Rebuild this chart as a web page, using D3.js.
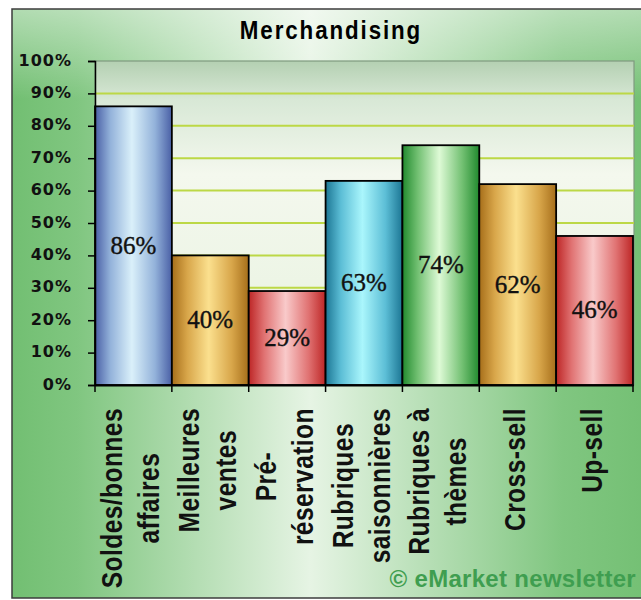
<!DOCTYPE html>
<html>
<head>
<meta charset="utf-8">
<script src="https://cdn.jsdelivr.net/npm/d3@7"></script>
<style>
  body { margin: 0; background: #fff; }
  svg { display: block; }
</style>
</head>
<body>
<svg id="chart"></svg>
<script>
const width = 641;
const height = 600;

// data
const categories = [
  ["Soldes/bonnes", "affaires"],
  ["Meilleures", "ventes"],
  ["Pré-", "réservation"],
  ["Rubriques", "saisonnières"],
  ["Rubriques à", "thèmes"],
  ["Cross-sell"],
  ["Up-sell"]
];
const values = [0.86, 0.40, 0.29, 0.63, 0.74, 0.62, 0.46];
const yTicks = [0, 0.1, 0.2, 0.3, 0.4, 0.5, 0.6, 0.7, 0.8, 0.9, 1];
const title = "Merchandising";
const credit = "© eMarket newsletter";

// bar fills, one per bar
const palette = {
  blue:  ["#4a60a6", "#93b2da", "#daf0fa"],
  gold:  ["#a66e1a", "#d8a64a", "#fbe08e"],
  red:   ["#bd2626", "#e07272", "#f9caca"],
  teal:  ["#1c7694", "#5cbed6", "#aaf6fc"],
  green: ["#218a2e", "#72c072", "#defad6"]
};
const barColors = ["blue", "gold", "red", "teal", "green", "gold", "red"];

const margin = {left: 95, top: 61, right: 633, bottom: 385};

const svg = d3.select("#chart")
  .attr("width", width)
  .attr("height", height)
  .attr("viewBox", [0, 0, width, height]);

const defs = svg.append("defs");

// outer background: green at the sides, pale in the middle
const bg = defs.append("linearGradient").attr("id", "bg")
  .attr("gradientUnits", "userSpaceOnUse")
  .attr("x1", 12).attr("x2", 660).attr("y1", 0).attr("y2", 0);
bg.append("stop").attr("offset", 0).attr("stop-color", "#72bf72");
bg.append("stop").attr("offset", 0.1).attr("stop-color", "#80c680");
bg.append("stop").attr("offset", 0.46).attr("stop-color", "#e6f4e4");
bg.append("stop").attr("offset", 0.85).attr("stop-color", "#80c680");
bg.append("stop").attr("offset", 1).attr("stop-color", "#72bf72");

const topGlow = defs.append("linearGradient").attr("id", "topGlow")
  .attr("x1", 0).attr("x2", 0).attr("y1", 0).attr("y2", 1);
topGlow.append("stop").attr("offset", 0).attr("stop-color", "#fff").attr("stop-opacity", 0.45);
topGlow.append("stop").attr("offset", 1).attr("stop-color", "#fff").attr("stop-opacity", 0);

const plotBg = defs.append("linearGradient").attr("id", "plotBg")
  .attr("x1", 0).attr("x2", 0).attr("y1", 0).attr("y2", 1);
plotBg.append("stop").attr("offset", 0).attr("stop-color", "#b4d0b2");
plotBg.append("stop").attr("offset", 0.12).attr("stop-color", "#d8e8d6");
plotBg.append("stop").attr("offset", 0.35).attr("stop-color", "#f4f8ee");
plotBg.append("stop").attr("offset", 1).attr("stop-color", "#e6f2de");

Object.entries(palette).forEach(([name, [dark, mid, light]]) => {
  const g = defs.append("linearGradient").attr("id", "bar-" + name)
    .attr("x1", 0).attr("x2", 1).attr("y1", 0).attr("y2", 0);
  g.append("stop").attr("offset", 0).attr("stop-color", dark);
  g.append("stop").attr("offset", 0.2).attr("stop-color", mid);
  g.append("stop").attr("offset", 0.48).attr("stop-color", light);
  g.append("stop").attr("offset", 0.78).attr("stop-color", mid);
  g.append("stop").attr("offset", 1).attr("stop-color", dark);
});

// chart frame
svg.append("rect")
  .attr("x", 12).attr("y", 9).attr("width", 660).attr("height", 589)
  .attr("fill", "url(#bg)");
svg.append("rect")
  .attr("x", 12).attr("y", 9).attr("width", 660).attr("height", 90)
  .attr("fill", "url(#topGlow)");
svg.append("rect")
  .attr("x", 12).attr("y", 9).attr("width", 660).attr("height", 589)
  .attr("fill", "none").attr("stroke", "#3c3c3c").attr("stroke-width", 1.5);

const x = d3.scaleBand()
  .domain(d3.range(values.length))
  .range([margin.left, margin.right])
  .padding(0);

const y = d3.scaleLinear()
  .domain([0, 1])
  .range([margin.bottom, margin.top]);

// plot area
svg.append("rect")
  .attr("x", margin.left).attr("y", margin.top)
  .attr("width", margin.right + 1 - margin.left)
  .attr("height", margin.bottom - margin.top)
  .attr("fill", "url(#plotBg)")
  .attr("stroke", "#7f9a7f").attr("stroke-width", 1.2);

svg.append("g")
  .selectAll("line")
  .data(yTicks.filter(d => d > 0 && d < 1))
  .join("line")
    .attr("x1", margin.left).attr("x2", margin.right + 1)
    .attr("y1", d => y(d)).attr("y2", d => y(d))
    .attr("stroke", "#bcd846").attr("stroke-width", 2);

// bars
svg.append("g")
  .selectAll("rect")
  .data(values)
  .join("rect")
    .attr("x", (d, i) => x(i))
    .attr("y", d => y(d))
    .attr("width", x.bandwidth())
    .attr("height", d => y(0) - y(d))
    .attr("fill", (d, i) => "url(#bar-" + barColors[i] + ")")
    .attr("stroke", "#000")
    .attr("stroke-width", 1.8);

// value labels
svg.append("g")
  .selectAll("text")
  .data(values)
  .join("text")
    .attr("x", (d, i) => x(i) + x.bandwidth() / 2)
    .attr("y", d => (y(d) + y(0)) / 2 + 8)
    .attr("text-anchor", "middle")
    .attr("font-family", "'Liberation Serif', 'Times New Roman', serif")
    .attr("font-size", 25)
    .attr("fill", "#111")
    .attr("stroke", "#111")
    .attr("stroke-width", 0.4)
    .text(d => d3.format(".0%")(d));

// y axis
const yAxis = svg.append("g")
  .attr("transform", `translate(${margin.left},0)`)
  .call(d3.axisLeft(y).tickValues(yTicks).tickSize(7).tickPadding(16)
    .tickFormat(d3.format(".0%")));
yAxis.select(".domain").attr("stroke", "#000").attr("stroke-width", 1.5);
yAxis.selectAll(".tick line").attr("stroke", "#000").attr("stroke-width", 1.5);
yAxis.selectAll(".tick text")
  .attr("dy", 4)
  .attr("font-family", "'DejaVu Sans', sans-serif")
  .attr("font-weight", "bold")
  .attr("font-size", 16)
  .attr("letter-spacing", 1)
  .attr("fill", "#111");

// x axis: line plus ticks on the band edges
const xAxis = svg.append("g")
  .attr("transform", `translate(0,${margin.bottom})`)
  .call(d3.axisBottom(x).tickSize(0).tickFormat(""));
xAxis.select(".domain").attr("stroke", "#000").attr("stroke-width", 1.8);
xAxis.selectAll(".tick").remove();
xAxis.selectAll("line.edge")
  .data(d3.range(values.length + 1))
  .join("line")
    .attr("class", "edge")
    .attr("x1", i => i < values.length ? x(i) : x.range()[1])
    .attr("x2", i => i < values.length ? x(i) : x.range()[1])
    .attr("y1", 0).attr("y2", 7)
    .attr("stroke", "#000").attr("stroke-width", 1.5);

// rotated category labels, lines centred in a block hanging from the axis
const squeeze = 0.82;
const lineGap = 37;
const labelTop = 408;
const labels = svg.append("g");
categories.forEach((lines, i) => {
  const cx = x(i) + x.bandwidth() / 2;
  const g = labels.append("g");
  const texts = lines.map((line, j) => {
    const bx = cx + (j - (lines.length - 1) / 2) * lineGap + 7;
    return g.append("text")
      .attr("font-family", "'Liberation Sans', Arial, sans-serif")
      .attr("font-weight", "bold")
      .attr("font-size", 30)
      .attr("letter-spacing", 0.5)
      .attr("fill", "#111")
      .attr("text-anchor", "middle")
      .datum(bx)
      .text(line);
  });
  const longest = d3.max(texts, t => t.node().getComputedTextLength()) * squeeze;
  const cy = labelTop + longest / 2;
  texts.forEach(t => t.attr("transform",
    `translate(${t.datum()},${cy}) rotate(-90) scale(${squeeze},1)`));
});

// title
svg.append("text")
  .attr("transform", "translate(331,39) scale(0.86,1)")
  .attr("text-anchor", "middle")
  .attr("font-family", "'Liberation Sans', Arial, sans-serif")
  .attr("font-weight", "bold")
  .attr("font-size", 26)
  .attr("letter-spacing", 2.2)
  .attr("fill", "#000")
  .text(title);

// credit
svg.append("text")
  .attr("x", 636).attr("y", 587)
  .attr("text-anchor", "end")
  .attr("font-family", "'Liberation Sans', Arial, sans-serif")
  .attr("font-weight", "bold")
  .attr("font-size", 24)
  .attr("letter-spacing", 0.3)
  .attr("fill", "#3f9e50")
  .text(credit);
</script>
</body>
</html>
